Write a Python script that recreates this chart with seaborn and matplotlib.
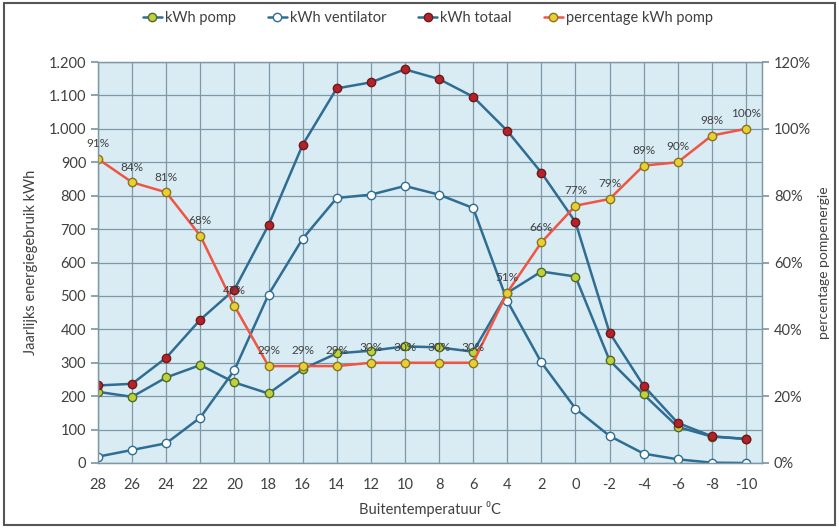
import numpy as np
import pandas as pd
import seaborn as sns
import matplotlib.pyplot as plt
from matplotlib.patches import Rectangle
from matplotlib.ticker import FuncFormatter, PercentFormatter

temp = [28, 26, 24, 22, 20, 18, 16, 14, 12, 10, 8, 6, 4, 2, 0, -2, -4, -6, -8, -10]
kwh_pomp = [213, 198, 256, 293, 241, 208, 281, 328, 336, 349, 346, 333, 509, 573, 558, 307, 205, 108, 79, 72]
kwh_ventilator = [19, 39, 59, 136, 278, 504, 671, 793, 803, 829, 803, 763, 485, 301, 163, 81, 28, 11, 1, 0]
kwh_totaal = [232, 237, 315, 429, 519, 712, 952, 1121, 1139, 1178, 1149, 1096, 994, 869, 721, 390, 231, 120, 80, 72]
pct_pomp = [91, 84, 81, 68, 47, 29, 29, 29, 30, 30, 30, 30, 51, 66, 77, 79, 89, 90, 98, 100]

df = pd.DataFrame({"temp": temp, "pomp": kwh_pomp, "ventilator": kwh_ventilator,
                   "totaal": kwh_totaal, "pct": np.array(pct_pomp) / 100})

sns.set_theme(style="white")
plt.rcParams["font.family"] = ["Lato", "DejaVu Sans"]

blue = "#2f6d93"
grid = "#7f98a5"
txt = "#404040"

fig = plt.figure(figsize=(8.39, 5.28), dpi=100)
ax = fig.add_axes([98 / 839, 1 - 463 / 528, 664 / 839, 401 / 528])
ax.set_facecolor("#d9ecf4")

common = dict(marker="o", markersize=6, markeredgewidth=1, linewidth=1.8)
sns.lineplot(data=df, x="temp", y="pomp", ax=ax, color=blue, label="kWh pomp",
             markerfacecolor="#bfd23a", markeredgecolor="#4f6b2c", **common)
sns.lineplot(data=df, x="temp", y="ventilator", ax=ax, color=blue, label="kWh ventilator",
             markerfacecolor="white", markeredgecolor=blue, **common)
sns.lineplot(data=df, x="temp", y="totaal", ax=ax, color=blue, label="kWh totaal",
             markerfacecolor="#b4232b", markeredgecolor="#6e1a1a", **common)

ax2 = ax.twinx()
sns.lineplot(data=df, x="temp", y="pct", ax=ax2, color="#f05443", label="percentage kWh pomp",
             markerfacecolor="#e8cf34", markeredgecolor="#8a7420", **common)
for t, p in zip(temp, pct_pomp):
    ax2.annotate(f"{p}%", (t, p / 100), xytext=(0, 11), textcoords="offset points",
                 ha="center", va="center", fontsize=8.5, color=txt)

ax.set_xlim(28, -10.94)
ax.set_ylim(0, 1200)
ax2.set_ylim(0, 1.2)
ax.set_xticks(temp)
ax.set_xticklabels([str(t) for t in temp])
ax.set_yticks(range(0, 1201, 100))
ax.yaxis.set_major_formatter(FuncFormatter(lambda v, p: f"{int(v):,}".replace(",", ".")))
ax2.set_yticks(np.arange(0, 1.21, 0.2))
ax2.yaxis.set_major_formatter(PercentFormatter(1.0, decimals=0))

ax.grid(True, color=grid, linewidth=0.9)
ax.set_axisbelow(True)
for a in (ax, ax2):
    for s in a.spines.values():
        s.set_color(grid)
        s.set_linewidth(0.9)
    a.tick_params(length=5, color=grid, labelcolor=txt, labelsize=10.5)
ax.tick_params(axis="x", pad=6)

ax.set_xlabel("Buitentemperatuur ⁰C", fontsize=10.5, color=txt, labelpad=6)
ax.set_ylabel("Jaarlijks energiegebruik kWh", fontsize=10.5, color=txt, labelpad=8)
ax2.set_ylabel("percentage pompenergie", fontsize=10, color=txt, labelpad=5)

h1, l1 = ax.get_legend_handles_labels()
h2, l2 = ax2.get_legend_handles_labels()
ax.get_legend().remove()
ax2.get_legend().remove()
fig.legend(h1 + h2, l1 + l2, loc="center", bbox_to_anchor=(0.51, 0.965), ncol=4,
           frameon=False, fontsize=10.5, handlelength=1.3, handletextpad=0.2,
           columnspacing=2.2, labelcolor=txt)

fig.patches.append(Rectangle((4 / 839, 3 / 528), 831 / 839, 522 / 528, transform=fig.transFigure,
                             fill=False, edgecolor="#555555", linewidth=1.5))

fig.savefig("out.png", dpi=100)
